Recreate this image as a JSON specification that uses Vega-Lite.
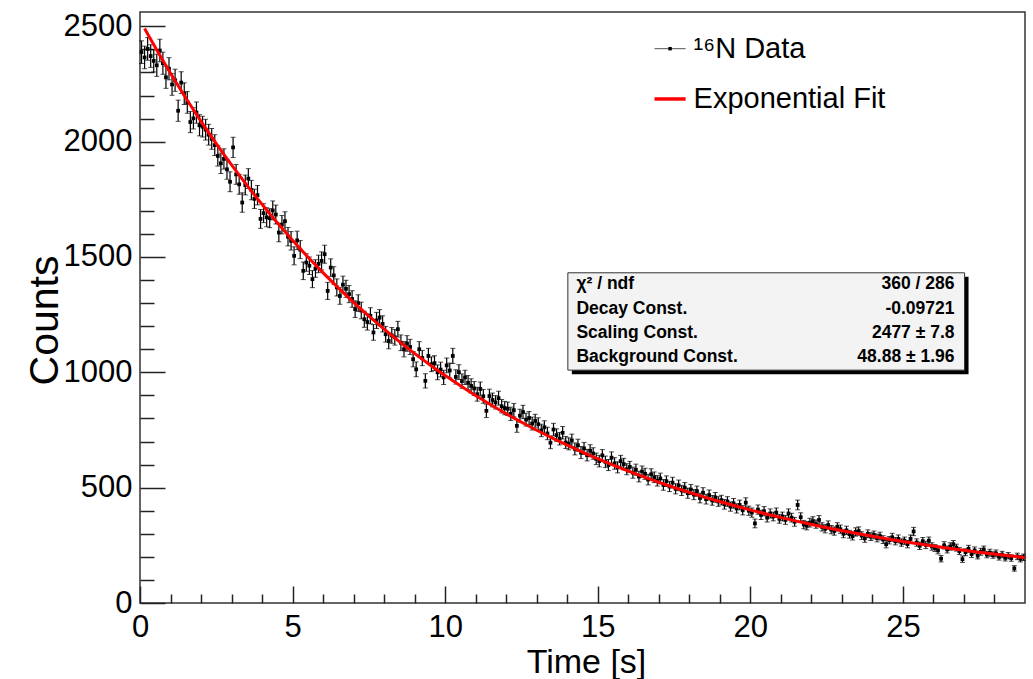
{
"$schema": "https://vega.github.io/schema/vega-lite/v6.json",
"width": 885, "height": 591,
"autosize": {"type": "none"},
"padding": {"left": 140, "top": 12, "right": 8, "bottom": 76},
"background": "white",
"config": {"view": {"stroke": "#333", "strokeWidth": 1.5}, "font": "Liberation Sans", "axis": {"grid": false, "domain": false, "labelColor": "black", "titleColor": "black", "tickColor": "#222", "tickWidth": 1.5}},
"datasets": {
"hist": [
{"t":0.05,"n":2388,"e":49},{"t":0.15,"n":2365,"e":49},{"t":0.25,"n":2402,"e":49},{"t":0.35,"n":2371,"e":49},{"t":0.45,"n":2350,"e":48},{"t":0.55,"n":2331,"e":48},{"t":0.65,"n":2395,"e":49},{"t":0.75,"n":2340,"e":48},{"t":0.85,"n":2279,"e":48},{"t":0.95,"n":2316,"e":48},
{"t":1.05,"n":2248,"e":47},{"t":1.15,"n":2266,"e":48},{"t":1.25,"n":2134,"e":46},{"t":1.35,"n":2256,"e":47},{"t":1.45,"n":2208,"e":47},{"t":1.55,"n":2170,"e":47},{"t":1.65,"n":2085,"e":46},{"t":1.75,"n":2101,"e":46},{"t":1.85,"n":2126,"e":46},{"t":1.95,"n":2071,"e":46},
{"t":2.05,"n":2065,"e":45},{"t":2.15,"n":2052,"e":45},{"t":2.25,"n":2030,"e":45},{"t":2.35,"n":2012,"e":45},{"t":2.45,"n":1985,"e":45},{"t":2.55,"n":1938,"e":44},{"t":2.65,"n":1906,"e":44},{"t":2.75,"n":1925,"e":44},{"t":2.85,"n":1880,"e":43},{"t":2.95,"n":1826,"e":43},
{"t":3.05,"n":1975,"e":44},{"t":3.15,"n":1858,"e":43},{"t":3.25,"n":1815,"e":43},{"t":3.35,"n":1736,"e":42},{"t":3.45,"n":1812,"e":43},{"t":3.55,"n":1840,"e":43},{"t":3.65,"n":1790,"e":42},{"t":3.75,"n":1752,"e":42},{"t":3.85,"n":1768,"e":42},{"t":3.95,"n":1665,"e":41},
{"t":4.05,"n":1690,"e":41},{"t":4.15,"n":1672,"e":41},{"t":4.25,"n":1668,"e":41},{"t":4.35,"n":1702,"e":41},{"t":4.45,"n":1684,"e":41},{"t":4.55,"n":1606,"e":40},{"t":4.65,"n":1640,"e":40},{"t":4.75,"n":1655,"e":41},{"t":4.85,"n":1588,"e":40},{"t":4.95,"n":1570,"e":40},
{"t":5.05,"n":1505,"e":39},{"t":5.15,"n":1572,"e":40},{"t":5.25,"n":1532,"e":39},{"t":5.35,"n":1440,"e":38},{"t":5.45,"n":1476,"e":38},{"t":5.55,"n":1462,"e":38},{"t":5.65,"n":1404,"e":37},{"t":5.75,"n":1450,"e":38},{"t":5.85,"n":1470,"e":38},{"t":5.95,"n":1483,"e":39},
{"t":6.05,"n":1512,"e":39},{"t":6.15,"n":1353,"e":37},{"t":6.25,"n":1454,"e":38},{"t":6.35,"n":1420,"e":38},{"t":6.45,"n":1368,"e":37},{"t":6.55,"n":1331,"e":36},{"t":6.65,"n":1380,"e":37},{"t":6.75,"n":1362,"e":37},{"t":6.85,"n":1339,"e":37},{"t":6.95,"n":1318,"e":36},
{"t":7.05,"n":1274,"e":36},{"t":7.15,"n":1300,"e":36},{"t":7.25,"n":1268,"e":36},{"t":7.35,"n":1230,"e":35},{"t":7.45,"n":1218,"e":35},{"t":7.55,"n":1245,"e":35},{"t":7.65,"n":1173,"e":34},{"t":7.75,"n":1225,"e":35},{"t":7.85,"n":1237,"e":35},{"t":7.95,"n":1210,"e":35},
{"t":8.05,"n":1165,"e":34},{"t":8.15,"n":1136,"e":34},{"t":8.25,"n":1160,"e":34},{"t":8.35,"n":1152,"e":34},{"t":8.45,"n":1187,"e":34},{"t":8.55,"n":1128,"e":34},{"t":8.65,"n":1100,"e":33},{"t":8.75,"n":1125,"e":34},{"t":8.85,"n":1110,"e":33},{"t":8.95,"n":1057,"e":33},
{"t":9.05,"n":1013,"e":32},{"t":9.15,"n":1100,"e":33},{"t":9.25,"n":1062,"e":33},{"t":9.35,"n":963,"e":31},{"t":9.45,"n":1071,"e":33},{"t":9.55,"n":1035,"e":32},{"t":9.65,"n":1040,"e":32},{"t":9.75,"n":1000,"e":32},{"t":9.85,"n":1012,"e":32},{"t":9.95,"n":978,"e":31},
{"t":10.05,"n":1030,"e":32},{"t":10.15,"n":1008,"e":32},{"t":10.25,"n":1071,"e":33},{"t":10.35,"n":980,"e":31},{"t":10.45,"n":1001,"e":32},{"t":10.55,"n":962,"e":31},{"t":10.65,"n":978,"e":31},{"t":10.75,"n":955,"e":31},{"t":10.85,"n":941,"e":31},{"t":10.95,"n":930,"e":30},
{"t":11.05,"n":905,"e":30},{"t":11.15,"n":928,"e":30},{"t":11.25,"n":896,"e":30},{"t":11.35,"n":833,"e":29},{"t":11.45,"n":897,"e":30},{"t":11.55,"n":880,"e":30},{"t":11.65,"n":870,"e":29},{"t":11.75,"n":888,"e":30},{"t":11.85,"n":853,"e":29},{"t":11.95,"n":845,"e":29},
{"t":12.05,"n":842,"e":29},{"t":12.15,"n":820,"e":29},{"t":12.25,"n":836,"e":29},{"t":12.35,"n":768,"e":28},{"t":12.45,"n":812,"e":28},{"t":12.55,"n":828,"e":29},{"t":12.65,"n":795,"e":28},{"t":12.75,"n":802,"e":28},{"t":12.85,"n":778,"e":28},{"t":12.95,"n":790,"e":28},
{"t":13.05,"n":775,"e":28},{"t":13.15,"n":748,"e":27},{"t":13.25,"n":762,"e":28},{"t":13.35,"n":735,"e":27},{"t":13.45,"n":695,"e":26},{"t":13.55,"n":752,"e":27},{"t":13.65,"n":728,"e":27},{"t":13.75,"n":712,"e":27},{"t":13.85,"n":738,"e":27},{"t":13.95,"n":696,"e":26},
{"t":14.05,"n":690,"e":26},{"t":14.15,"n":705,"e":27},{"t":14.25,"n":668,"e":26},{"t":14.35,"n":684,"e":26},{"t":14.45,"n":652,"e":26},{"t":14.55,"n":670,"e":26},{"t":14.65,"n":641,"e":25},{"t":14.75,"n":660,"e":26},{"t":14.85,"n":648,"e":25},{"t":14.95,"n":625,"e":25},
{"t":15.05,"n":615,"e":25},{"t":15.15,"n":640,"e":25},{"t":15.25,"n":612,"e":25},{"t":15.35,"n":598,"e":24},{"t":15.45,"n":630,"e":25},{"t":15.55,"n":605,"e":25},{"t":15.65,"n":588,"e":24},{"t":15.75,"n":615,"e":25},{"t":15.85,"n":602,"e":25},{"t":15.95,"n":580,"e":24},
{"t":16.05,"n":590,"e":24},{"t":16.15,"n":565,"e":24},{"t":16.25,"n":578,"e":24},{"t":16.35,"n":548,"e":23},{"t":16.45,"n":570,"e":24},{"t":16.55,"n":560,"e":24},{"t":16.65,"n":535,"e":23},{"t":16.75,"n":558,"e":24},{"t":16.85,"n":545,"e":23},{"t":16.95,"n":530,"e":23},
{"t":17.05,"n":540,"e":23},{"t":17.15,"n":512,"e":23},{"t":17.25,"n":528,"e":23},{"t":17.35,"n":505,"e":22},{"t":17.45,"n":522,"e":23},{"t":17.55,"n":495,"e":22},{"t":17.65,"n":510,"e":23},{"t":17.75,"n":488,"e":22},{"t":17.85,"n":500,"e":22},{"t":17.95,"n":476,"e":22},
{"t":18.05,"n":492,"e":22},{"t":18.15,"n":470,"e":22},{"t":18.25,"n":485,"e":22},{"t":18.35,"n":455,"e":21},{"t":18.45,"n":478,"e":22},{"t":18.55,"n":450,"e":21},{"t":18.65,"n":468,"e":22},{"t":18.75,"n":445,"e":21},{"t":18.85,"n":458,"e":21},{"t":18.95,"n":440,"e":21},
{"t":19.05,"n":446,"e":21},{"t":19.15,"n":428,"e":21},{"t":19.25,"n":440,"e":21},{"t":19.35,"n":418,"e":20},{"t":19.45,"n":432,"e":21},{"t":19.55,"n":410,"e":20},{"t":19.65,"n":425,"e":21},{"t":19.75,"n":402,"e":20},{"t":19.85,"n":435,"e":21},{"t":19.95,"n":400,"e":20},
{"t":20.05,"n":392,"e":20},{"t":20.15,"n":345,"e":19},{"t":20.25,"n":405,"e":20},{"t":20.35,"n":382,"e":20},{"t":20.45,"n":398,"e":20},{"t":20.55,"n":370,"e":19},{"t":20.65,"n":388,"e":20},{"t":20.75,"n":375,"e":19},{"t":20.85,"n":392,"e":20},{"t":20.95,"n":365,"e":19},
{"t":21.05,"n":375,"e":19},{"t":21.15,"n":360,"e":19},{"t":21.25,"n":388,"e":20},{"t":21.35,"n":370,"e":19},{"t":21.45,"n":352,"e":19},{"t":21.55,"n":425,"e":21},{"t":21.65,"n":372,"e":19},{"t":21.75,"n":340,"e":18},{"t":21.85,"n":335,"e":18},{"t":21.95,"n":348,"e":19},
{"t":22.05,"n":355,"e":19},{"t":22.15,"n":342,"e":18},{"t":22.25,"n":360,"e":19},{"t":22.35,"n":330,"e":18},{"t":22.45,"n":322,"e":18},{"t":22.55,"n":338,"e":18},{"t":22.65,"n":318,"e":18},{"t":22.75,"n":312,"e":18},{"t":22.85,"n":330,"e":18},{"t":22.95,"n":320,"e":18},
{"t":23.05,"n":300,"e":17},{"t":23.15,"n":315,"e":18},{"t":23.25,"n":298,"e":17},{"t":23.35,"n":290,"e":17},{"t":23.45,"n":308,"e":18},{"t":23.55,"n":312,"e":18},{"t":23.65,"n":292,"e":17},{"t":23.75,"n":280,"e":17},{"t":23.85,"n":300,"e":17},{"t":23.95,"n":288,"e":17},
{"t":24.05,"n":295,"e":17},{"t":24.15,"n":282,"e":17},{"t":24.25,"n":290,"e":17},{"t":24.35,"n":275,"e":17},{"t":24.45,"n":255,"e":16},{"t":24.55,"n":272,"e":16},{"t":24.65,"n":285,"e":17},{"t":24.75,"n":268,"e":16},{"t":24.85,"n":278,"e":17},{"t":24.95,"n":262,"e":16},
{"t":25.05,"n":270,"e":16},{"t":25.15,"n":255,"e":16},{"t":25.25,"n":278,"e":17},{"t":25.35,"n":310,"e":18},{"t":25.45,"n":262,"e":16},{"t":25.55,"n":248,"e":16},{"t":25.65,"n":268,"e":16},{"t":25.75,"n":252,"e":16},{"t":25.85,"n":270,"e":16},{"t":25.95,"n":245,"e":16},
{"t":26.05,"n":238,"e":15},{"t":26.15,"n":228,"e":15},{"t":26.25,"n":192,"e":14},{"t":26.35,"n":250,"e":16},{"t":26.45,"n":232,"e":15},{"t":26.55,"n":245,"e":16},{"t":26.65,"n":255,"e":16},{"t":26.75,"n":240,"e":15},{"t":26.85,"n":225,"e":15},{"t":26.95,"n":190,"e":14},
{"t":27.05,"n":220,"e":15},{"t":27.15,"n":235,"e":15},{"t":27.25,"n":212,"e":15},{"t":27.35,"n":228,"e":15},{"t":27.45,"n":205,"e":14},{"t":27.55,"n":222,"e":15},{"t":27.65,"n":232,"e":15},{"t":27.75,"n":210,"e":14},{"t":27.85,"n":218,"e":15},{"t":27.95,"n":208,"e":14},
{"t":28.05,"n":215,"e":15},{"t":28.15,"n":200,"e":14},{"t":28.25,"n":210,"e":14},{"t":28.35,"n":196,"e":14},{"t":28.45,"n":205,"e":14},{"t":28.55,"n":195,"e":14},{"t":28.65,"n":150,"e":12},{"t":28.75,"n":202,"e":14},{"t":28.85,"n":192,"e":14},{"t":28.95,"n":198,"e":14}
],
"fit": [
{"t":0.15,"f":2490.0},{"t":0.55,"f":2396.9},{"t":1.05,"f":2285.5},{"t":1.55,"f":2179.4},{"t":2.05,"f":2078.3},{"t":2.55,"f":1982.1},{"t":3.05,"f":1890.3},{"t":3.55,"f":1803.0},{"t":4.05,"f":1719.8},{"t":4.55,"f":1640.5},
{"t":5.05,"f":1565.0},{"t":5.55,"f":1493.1},{"t":6.05,"f":1424.5},{"t":6.55,"f":1359.3},{"t":7.05,"f":1297.1},{"t":7.55,"f":1237.9},{"t":8.05,"f":1181.5},{"t":8.55,"f":1127.8},{"t":9.05,"f":1076.6},{"t":9.55,"f":1027.8},
{"t":10.05,"f":981.4},{"t":10.55,"f":937.1},{"t":11.05,"f":895.0},{"t":11.55,"f":854.8},{"t":12.05,"f":816.6},{"t":12.55,"f":780.2},{"t":13.05,"f":745.5},{"t":13.55,"f":712.4},{"t":14.05,"f":681.0},{"t":14.55,"f":651.0},
{"t":15.05,"f":622.4},{"t":15.55,"f":595.2},{"t":16.05,"f":569.3},{"t":16.55,"f":544.6},{"t":17.05,"f":521.1},{"t":17.55,"f":498.7},{"t":18.05,"f":477.3},{"t":18.55,"f":457.0},{"t":19.05,"f":437.6},{"t":19.55,"f":419.2},
{"t":20.05,"f":401.6},{"t":20.55,"f":384.9},{"t":21.05,"f":369.0},{"t":21.55,"f":353.8},{"t":22.05,"f":339.3},{"t":22.55,"f":325.5},{"t":23.05,"f":312.4},{"t":23.55,"f":299.9},{"t":24.05,"f":288.0},{"t":24.55,"f":276.6},
{"t":25.05,"f":265.8},{"t":25.55,"f":255.5},{"t":26.05,"f":245.7},{"t":26.55,"f":236.4},{"t":27.05,"f":227.5},{"t":27.55,"f":219.0},{"t":28.05,"f":211.0},{"t":28.55,"f":203.3},{"t":29.0,"f":196.7}
]
},
"resolve": {"axis": {"x": "independent", "y": "independent"}},
"layer": [
{
"data": {"name": "hist"},
"mark": {"type": "errorbar", "color": "black", "ticks": {"size": 5, "color": "black", "strokeWidth": 1.2}, "rule": {"strokeWidth": 1.2, "color": "black"}},
"encoding": {
"x": {"field": "t", "type": "quantitative", "scale": {"domain": [0, 29], "nice": false, "zero": false}, "axis": null},
"y": {"field": "n", "type": "quantitative", "scale": {"domain": [0, 2562], "nice": false}, "axis": null},
"yError": {"field": "e"}
}
},
{
"data": {"name": "hist"},
"mark": {"type": "point", "filled": true, "shape": "square", "size": 14, "opacity": 1, "color": "black"},
"encoding": {
"x": {"field": "t", "type": "quantitative", "scale": {"domain": [0, 29], "nice": false, "zero": false},
"axis": {"orient": "bottom", "values": [0, 5, 10, 15, 20, 25], "tickSize": -17, "labelFontSize": 31, "labelPadding": 26, "labelFlush": false, "labelOverlap": false, "title": "Time [s]", "titleFontSize": 34, "titleFontWeight": "normal", "titleX": 446, "titleY": 59, "titleBaseline": "middle", "titleAlign": "center"}},
"y": {"field": "n", "type": "quantitative", "scale": {"domain": [0, 2562], "nice": false},
"axis": {"orient": "left", "values": [0, 500, 1000, 1500, 2000, 2500], "format": "d", "tickSize": -25, "labelFontSize": 31, "labelPadding": 33, "labelOverlap": false, "title": "Counts", "titleFontSize": 41, "titleFontWeight": "normal", "titleX": -95, "titleY": 308, "titleAngle": -90, "titleBaseline": "middle", "titleAlign": "center"}}
}
},
{
"data": {"name": "fit"},
"mark": {"type": "line", "strokeWidth": 3, "interpolate": "monotone", "color": "#ff0000"},
"encoding": {
"x": {"field": "t", "type": "quantitative", "scale": {"domain": [0, 29], "nice": false, "zero": false},
"axis": {"orient": "bottom", "values": [1, 2, 3, 4, 6, 7, 8, 9, 11, 12, 13, 14, 16, 17, 18, 19, 21, 22, 23, 24, 26, 27, 28], "tickSize": -9, "labels": false, "title": null}},
"y": {"field": "f", "type": "quantitative", "scale": {"domain": [0, 2562], "nice": false},
"axis": {"orient": "left", "values": [100, 200, 300, 400, 600, 700, 800, 900, 1100, 1200, 1300, 1400, 1600, 1700, 1800, 1900, 2100, 2200, 2300, 2400], "tickSize": -14, "labels": false, "title": null}}
}
},
{
"data": {"values": [{}]},
"mark": {"type": "rule", "color": "#555", "strokeWidth": 1},
"encoding": {
"x": {"datum": 16.86, "type": "quantitative", "axis": null}, "x2": {"datum": 17.88},
"y": {"datum": 2403, "type": "quantitative", "axis": null}
}
},
{
"data": {"values": [{}]},
"mark": {"type": "point", "filled": true, "shape": "square", "size": 12, "opacity": 1, "color": "black"},
"encoding": {
"x": {"datum": 17.37, "type": "quantitative", "axis": null},
"y": {"datum": 2403, "type": "quantitative", "axis": null}
}
},
{
"data": {"values": [{}]},
"mark": {"type": "text", "align": "left", "baseline": "middle", "fontSize": 29, "color": "black", "text": "¹⁶N Data"},
"encoding": {
"x": {"datum": 18.14, "type": "quantitative", "axis": null},
"y": {"datum": 2403, "type": "quantitative", "axis": null}
}
},
{
"data": {"values": [{}]},
"mark": {"type": "rule", "color": "#ff0000", "strokeWidth": 3.5},
"encoding": {
"x": {"datum": 16.86, "type": "quantitative", "axis": null}, "x2": {"datum": 17.88},
"y": {"datum": 2185, "type": "quantitative", "axis": null}
}
},
{
"data": {"values": [{}]},
"mark": {"type": "text", "align": "left", "baseline": "middle", "fontSize": 29, "color": "black", "text": "Exponential Fit"},
"encoding": {
"x": {"datum": 18.14, "type": "quantitative", "axis": null},
"y": {"datum": 2185, "type": "quantitative", "axis": null}
}
},
{
"data": {"values": [{}]},
"mark": {"type": "rect", "fill": "black"},
"encoding": {
"x": {"datum": 14.15, "type": "quantitative", "axis": null}, "x2": {"datum": 27.15},
"y": {"datum": 1414, "type": "quantitative", "axis": null}, "y2": {"datum": 992}
}
},
{
"data": {"values": [{}]},
"mark": {"type": "rect", "fill": "#f3f3f3", "stroke": "#333", "strokeWidth": 1},
"encoding": {
"x": {"datum": 14.02, "type": "quantitative", "axis": null}, "x2": {"datum": 27.02},
"y": {"datum": 1431.5, "type": "quantitative", "axis": null}, "y2": {"datum": 1009.5}
}
},
{
"data": {"values": [{}]},
"mark": {"type": "text", "align": "left", "baseline": "middle", "fontSize": 17.5, "fontWeight": "bold", "lineHeight": 24.1, "color": "black",
"text": ["χ² / ndf", "Decay Const.", "Scaling Const.", "Background Const."]},
"encoding": {
"x": {"datum": 14.3, "type": "quantitative", "axis": null},
"y": {"datum": 1381, "type": "quantitative", "axis": null}
}
},
{
"data": {"values": [{}]},
"mark": {"type": "text", "align": "right", "baseline": "middle", "fontSize": 17.5, "fontWeight": "bold", "lineHeight": 24.1, "color": "black",
"text": ["360 / 286", "-0.09721", "2477 ± 7.8", "48.88 ± 1.96"]},
"encoding": {
"x": {"datum": 26.69, "type": "quantitative", "axis": null},
"y": {"datum": 1381, "type": "quantitative", "axis": null}
}
}
]
}
